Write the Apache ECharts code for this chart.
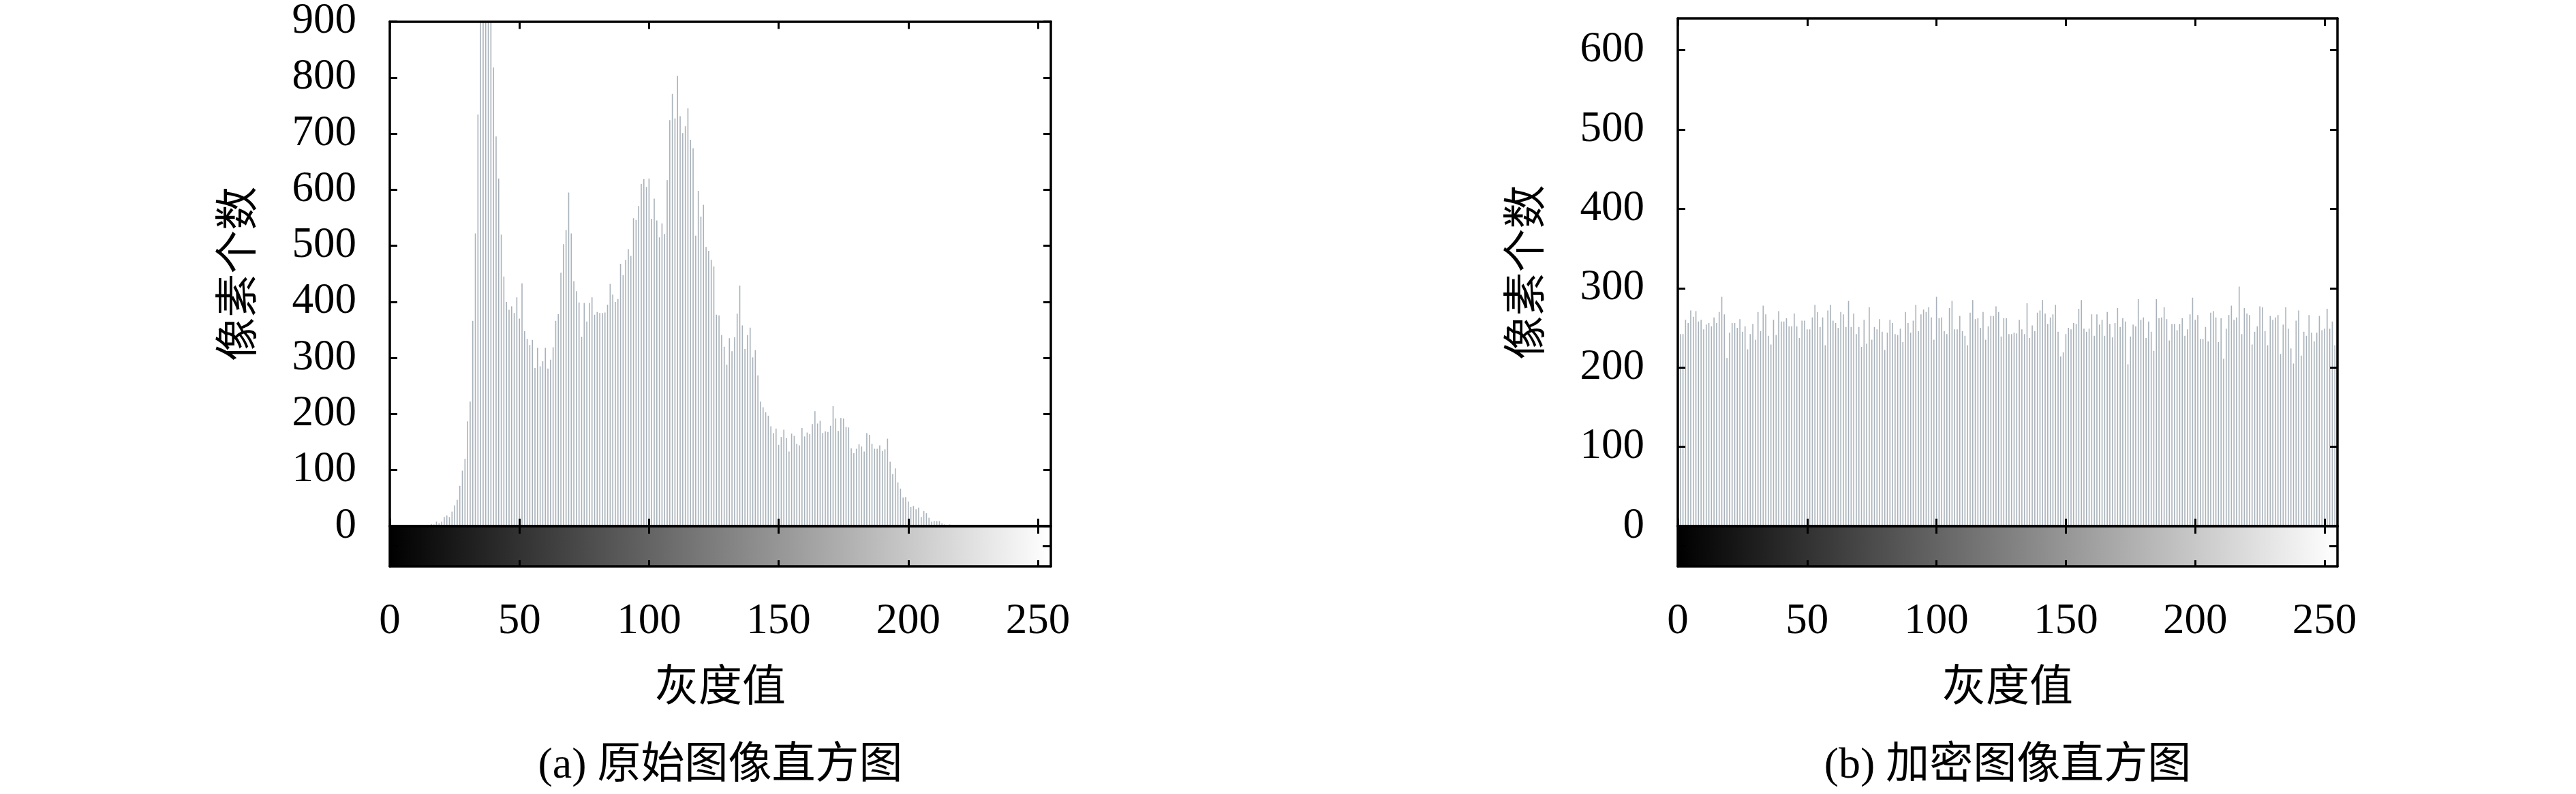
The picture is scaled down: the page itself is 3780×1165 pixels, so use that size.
<!DOCTYPE html>
<html>
<head>
<meta charset="utf-8">
<script src="https://cdn.jsdelivr.net/npm/echarts@6/dist/echarts.min.js"></script>
<style>html,body{margin:0;padding:0;background:#fff}#c{width:3780px;height:1165px}</style>
</head>
<body>
<div id="c"></div>
<script>
// ---------------- data ----------------
const grayLevels = Array.from({length: 256}, (_, i) => i);

const originalCounts = [
  0,0,0,0,0,0,0,0,0,0,0,0,0,0,0,0,
  4,3,8,5,8,16,19,16,26,37,
  47,72,99,120,187,222,366,522,734,960,
  1020,1060,1000,940,818,695,620,520,445,400,
  386,392,380,408,370,433,348,334,323,332,
  282,318,285,294,318,281,297,319,366,378,
  452,503,528,595,522,437,419,399,338,398,
  365,398,408,377,382,380,380,381,395,432,
  413,400,405,468,448,475,494,482,549,546,
  571,610,619,605,620,548,584,545,515,540,
  521,617,724,771,727,803,731,701,713,745,
  689,674,518,598,552,573,498,491,475,463,
  377,376,341,320,288,335,312,337,379,429,
  358,316,341,354,301,314,269,222,212,203,
  197,178,166,174,145,159,172,157,133,165,
  161,147,144,175,160,167,164,182,205,183,
  188,166,169,168,179,214,192,170,193,192,
  177,176,139,130,138,146,142,133,166,163,
  147,138,138,144,134,137,156,115,93,103,
  78,67,51,52,44,34,36,30,33,16,
  27,23,15,8,9,9,9,5,3,2,
  3,1,
  0,0,0,0,0,0,0,0,0,0,0,0,0,0,0,0,0,0,0,0,
  0,0,0,0,0,0,0,0,0,0,0,0,0,0,0,0,0,0
];

const encryptedCounts = [
  261,242,242,260,256,272,264,271,258,260,
  248,254,256,252,263,256,270,289,267,212,
  244,256,256,250,261,245,252,223,242,255,
  235,270,246,278,267,240,229,260,241,271,
  258,258,262,252,252,268,252,237,259,259,
  248,248,263,279,270,251,263,228,272,279,
  259,256,250,270,267,251,284,251,268,242,
  251,226,260,230,276,235,251,248,261,245,
  222,244,260,256,242,241,249,232,270,256,
  244,259,279,246,267,273,270,276,263,235,
  289,262,263,246,242,275,284,248,248,265,
  246,240,228,269,285,261,262,250,270,235,
  252,265,265,277,270,239,262,262,242,242,
  244,243,260,248,242,281,237,253,246,269,
  272,285,268,255,263,267,279,245,214,219,
  242,250,248,256,255,274,285,249,245,249,
  267,240,267,254,260,240,270,255,238,256,
  275,251,262,258,204,239,254,252,286,260,
  263,237,258,245,221,286,262,263,276,261,
  234,255,255,247,255,262,240,248,267,288,
  260,266,236,236,251,233,269,271,263,232,
  262,211,249,266,278,260,263,302,242,275,
  268,266,229,245,252,277,276,246,228,265,
  260,263,266,217,254,276,249,224,205,259,
  272,215,245,240,266,244,233,244,265,247,
  249,274,249,258,228,260
];

const xTickValues = [0, 50, 100, 150, 200, 250];
const xTickLabels = ['0', '50', '100', '150', '200', '250'];
const yTicksOriginal = [0, 100, 200, 300, 400, 500, 600, 700, 800, 900];
const yTicksEncrypted = [0, 100, 200, 300, 400, 500, 600];
const yMaxOriginal = 900;
const yMaxEncrypted = 640;
const xAxisTitle = '灰度值';
const yAxisTitle = '像素个数';
const captions = ['(a) 原始图像直方图', '(b) 加密图像直方图'];

// ---------------- style ----------------
const FONT_NUM = '"Liberation Serif", "DejaVu Serif", serif';
const FONT_CJK = '"Noto Sans CJK SC", sans-serif';
const FONT_MIX = '"Liberation Serif", "Noto Sans CJK SC", serif';
const AXLINE = {color: '#000', width: 3.5};
const TICK = {color: '#000', width: 3};
const BAR_COLOR = '#a9b2ba';

const grids = [], xAxes = [], yAxes = [], series = [], graphics = [];

function baseAxis(extra) {
  return Object.assign({
    type: 'value',
    axisLine: {show: true, onZero: false, lineStyle: AXLINE},
    axisLabel: {show: false},
    splitLine: {show: false},
    z: 5
  }, extra);
}

function panel(idx, left, width, counts, yMax, yTicks, caption) {
  const g0 = grids.length, g1 = g0 + 1;
  const xi = xAxes.length, yi = yAxes.length;
  grids.push({left: left, top: 27, width: width, height: 745});
  grids.push({left: left, top: 772, width: width, height: 59});

  xAxes.push(
    baseAxis({gridIndex: g0, min: 0, max: 255, position: 'bottom',
      axisTick: {inside: true, length: 11, lineStyle: TICK, customValues: xTickValues}}),
    baseAxis({gridIndex: g0, min: 0, max: 255, position: 'top',
      axisTick: {inside: true, length: 11, lineStyle: TICK, customValues: xTickValues}}),
    baseAxis({gridIndex: g1, min: 0, max: 255, position: 'top',
      axisTick: {inside: true, length: 11, lineStyle: TICK, customValues: xTickValues}}),
    baseAxis({gridIndex: g1, min: 0, max: 255, position: 'bottom',
      axisTick: {inside: true, length: 9, lineStyle: TICK, customValues: xTickValues},
      axisLabel: {show: true, customValues: xTickValues,
        formatter: v => xTickLabels[xTickValues.indexOf(v)],
        margin: 50, fontSize: 63, fontFamily: FONT_NUM, color: '#000'},
      name: xAxisTitle, nameLocation: 'middle', nameGap: 141,
      nameTextStyle: {fontSize: 64, fontFamily: FONT_CJK, color: '#000'}})
  );

  yAxes.push(
    baseAxis({gridIndex: g0, min: 0, max: yMax, position: 'left',
      axisTick: {inside: true, length: 11, lineStyle: TICK, customValues: yTicks},
      axisLabel: {show: true, customValues: yTicks, margin: 49, fontSize: 63,
        fontFamily: FONT_NUM, color: '#000'},
      name: yAxisTitle, nameLocation: 'middle', nameRotate: 90, nameGap: 194,
      nameTextStyle: {fontSize: 64, fontFamily: FONT_CJK, color: '#000'}}),
    baseAxis({gridIndex: g0, min: 0, max: yMax, position: 'right',
      axisTick: {inside: true, length: 11, lineStyle: TICK, customValues: yTicks}}),
    baseAxis({gridIndex: g1, min: 0, max: 2, position: 'left',
      axisTick: {inside: true, length: 12, lineStyle: TICK, customValues: [1]}}),
    baseAxis({gridIndex: g1, min: 0, max: 2, position: 'right',
      axisTick: {inside: true, length: 12, lineStyle: TICK, customValues: [1]}})
  );

  series.push({
    type: 'bar', xAxisIndex: xi, yAxisIndex: yi,
    data: grayLevels.map((g, i) => [g, counts[i]]),
    barWidth: 1.6, itemStyle: {color: BAR_COLOR}, clip: true, silent: true, z: 2
  });
  series.push({
    type: 'custom', xAxisIndex: xi + 3, yAxisIndex: yi + 2,
    data: [[grayLevels[0], grayLevels[255]]], silent: true, z: 1, clip: true,
    renderItem: function (params, api) {
      const p0 = api.coord([api.value(0), 2]);
      const p1 = api.coord([api.value(1), 0]);
      return {
        type: 'rect',
        shape: {x: p0[0], y: p0[1], width: p1[0] - p0[0], height: p1[1] - p0[1]},
        style: {fill: new echarts.graphic.LinearGradient(0, 0, 1, 0, [
          {offset: 0, color: '#000000'}, {offset: 1, color: '#ffffff'}])}
      };
    }
  });

  graphics.push({
    type: 'text', x: left + width / 2, y: 1124,
    style: {text: caption, fontSize: 64, fontFamily: FONT_MIX, fill: '#000',
      align: 'center', verticalAlign: 'middle'}
  });
}

panel(0, 572, 970, originalCounts, yMaxOriginal, yTicksOriginal, captions[0]);
panel(1, 2462, 968, encryptedCounts, yMaxEncrypted, yTicksEncrypted, captions[1]);

const chart = echarts.init(document.getElementById('c'), null, {renderer: 'canvas'});
chart.setOption({
  animation: false,
  backgroundColor: '#fff',
  grid: grids,
  xAxis: xAxes,
  yAxis: yAxes,
  series: series,
  graphic: graphics
});
</script>
</body>
</html>
